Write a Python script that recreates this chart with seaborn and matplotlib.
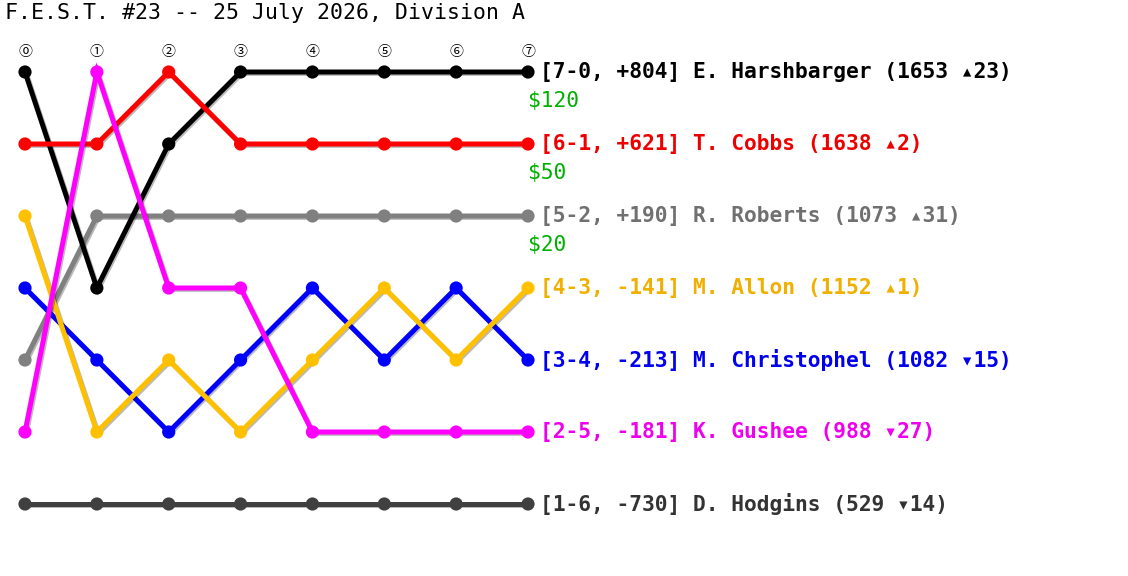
import matplotlib
matplotlib.use("Agg")
import matplotlib.pyplot as plt
import matplotlib.patheffects as pe
import seaborn as sns
import pandas as pd

title = "F.E.S.T. #23 -- 25 July 2026, Division A"
rounds = [0, 1, 2, 3, 4, 5, 6, 7]
round_labels = ["⓪", "①", "②", "③", "④", "⑤", "⑥", "⑦"]

players = ["E. Harshbarger", "T. Cobbs", "R. Roberts", "M. Allon",
           "M. Christophel", "K. Gushee", "D. Hodgins"]
wins = [7, 6, 5, 4, 3, 2, 1]
losses = [0, 1, 2, 3, 4, 5, 6]
spreads = [804, 621, 190, -141, -213, -181, -730]
ratings = [1653, 1638, 1073, 1152, 1082, 988, 529]
rating_changes = [23, 2, 31, 1, -15, -27, -14]
prizes = ["$120", "$50", "$20", "", "", "", ""]

rank_harshbarger = [1, 4, 2, 1, 1, 1, 1, 1]
rank_cobbs = [2, 2, 1, 2, 2, 2, 2, 2]
rank_roberts = [5, 3, 3, 3, 3, 3, 3, 3]
rank_allon = [3, 6, 5, 6, 5, 4, 5, 4]
rank_christophel = [4, 5, 6, 5, 4, 5, 4, 5]
rank_gushee = [6, 1, 4, 4, 6, 6, 6, 6]
rank_hodgins = [7, 7, 7, 7, 7, 7, 7, 7]
ranks = [rank_harshbarger, rank_cobbs, rank_roberts, rank_allon,
         rank_christophel, rank_gushee, rank_hodgins]

line_colors = ["#000000", "#ff0000", "#808080", "#ffc000",
               "#0000ff", "#ff00ff", "#404040"]
text_colors = ["#000000", "#ee0000", "#707070", "#f0b000",
               "#0000ee", "#ee00ee", "#333333"]
draw_order = ["D. Hodgins", "R. Roberts", "E. Harshbarger", "M. Christophel",
              "T. Cobbs", "M. Allon", "K. Gushee"]

rows = []
for name, r in zip(players, ranks):
    for rd, rk in zip(rounds, r):
        rows.append({"player": name, "round": rd, "rank": rk})
df = pd.DataFrame(rows)

sns.set_theme(style="white")
mono = ["DejaVu Sans Mono", "DejaVu Sans"]
plt.rcParams["font.family"] = mono

W, H = 1128, 576
fig = plt.figure(figsize=(W / 100, H / 100), dpi=100)
ax = fig.add_axes([0, 0, 1, 1])

pal = dict(zip(players, line_colors))
sns.lineplot(data=df, x="round", y="rank", hue="player", hue_order=draw_order,
             palette=pal, marker="o", markersize=9.5, linewidth=3.6,
             markeredgewidth=0, legend=False, ax=ax, estimator=None, sort=False)

for ln in ax.lines:
    ln.set_solid_joinstyle("miter")
    ln.set_path_effects([pe.SimpleLineShadow(offset=(1.0, -1.0), shadow_color="k", alpha=0.3),
                         pe.Normal()])

ppu = (528 - 25) / 7.0
ax.set_xlim(-25 / ppu, (W - 25) / ppu)
ax.set_ylim(8, 0)
ax.axis("off")

circ_fam = ["Noto Sans CJK JP", "DejaVu Sans"]
for rd, lab in zip(rounds, round_labels):
    ax.text(rd, 1 - 20 / 72, lab, ha="center", va="center", fontsize=10,
            family=circ_fam, color="black")

last = rounds[-1]
for i, name in enumerate(players):
    y = ranks[i][-1]
    d = rating_changes[i]
    arrow = "▴" if d > 0 else "▾"
    label = f"[{wins[i]}-{losses[i]}, {spreads[i]:+d}] {name} ({ratings[i]} {arrow}{abs(d)})"
    ax.text(last + 12 / ppu, y, label, ha="left", va="center", fontsize=15.3,
            fontweight="bold", family=mono, color=text_colors[i])
    if prizes[i]:
        ax.text(last, y + 29 / 72, prizes[i], ha="left", va="center", fontsize=15.3,
                family=mono, color="#00b000")

fig.text(5 / W, 1 - 13 / H, title, ha="left", va="center", fontsize=15.5,
         family=mono, color="black")

fig.savefig("out.png", dpi=100, facecolor="white")
